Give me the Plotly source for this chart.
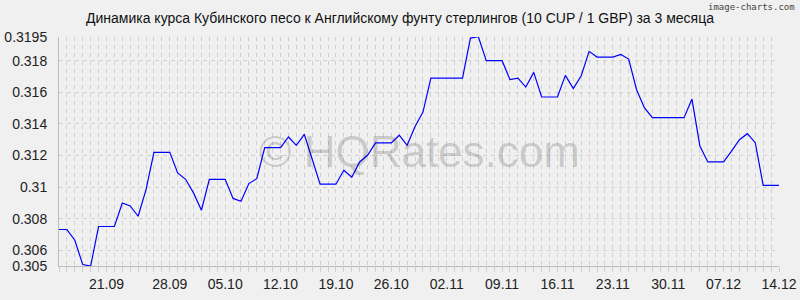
import plotly.graph_objects as go

# Daily rates (CUP per 10 / GBP), 92 points, 15.09 .. 14.12
rates = [
    0.30731, 0.30731, 0.30663, 0.30509, 0.30500, 0.30750, 0.30750, 0.30750,
    0.30899, 0.30880, 0.30815, 0.30984, 0.31220, 0.31220, 0.31220, 0.31089,
    0.31049, 0.30963, 0.30853, 0.31049, 0.31049, 0.31049, 0.30928, 0.30910,
    0.31022, 0.31053, 0.31250, 0.31250, 0.31250, 0.31317, 0.31264, 0.31334,
    0.31176, 0.31018, 0.31018, 0.31018, 0.31106, 0.31062, 0.31159, 0.31201,
    0.31279, 0.31279, 0.31279, 0.31328, 0.31264, 0.31383, 0.31475, 0.31690,
    0.31690, 0.31690, 0.31690, 0.31690, 0.31943, 0.31952, 0.31800, 0.31800,
    0.31800, 0.31680, 0.31690, 0.31633, 0.31726, 0.31570, 0.31570, 0.31570,
    0.31707, 0.31623, 0.31705, 0.31859, 0.31823, 0.31823, 0.31823, 0.31840,
    0.31810, 0.31616, 0.31501, 0.31439, 0.31439, 0.31439, 0.31439, 0.31439,
    0.31557, 0.31260, 0.31159, 0.31159, 0.31159, 0.31228, 0.31300, 0.31338,
    0.31281, 0.31011, 0.31011, 0.31011,
]
day_index = list(range(len(rates)))

x_tick_pos = [6, 14, 21, 28, 35, 42, 49, 56, 63, 70, 77, 84, 91]
x_tick_labels = ["21.09", "28.09", "05.10", "12.10", "19.10", "26.10", "02.11",
                 "09.11", "16.11", "23.11", "30.11", "07.12", "14.12"]

y_tick_vals = [0.305, 0.306, 0.308, 0.310, 0.312, 0.314, 0.316, 0.318, 0.3195]
y_tick_labels = ["0.305", "0.306", "0.308", "0.31", "0.312", "0.314", "0.316", "0.318", "0.3195"]

title_text = "Динамика курса Кубинского песо к Английскому фунту стерлингов (10 CUP / 1 GBP) за 3 месяца"

GRID = "#cfcfcf"
BG = "#f0f0f0"
FONT = "Liberation Sans, Arial, sans-serif"

fig = go.Figure()
fig.add_trace(go.Scatter(
    x=day_index, y=rates, mode="lines",
    line=dict(color="#0000ff", width=1.2),
    hoverinfo="skip", showlegend=False,
))

fig.update_layout(
    width=800, height=300,
    paper_bgcolor=BG, plot_bgcolor=BG,
    margin=dict(l=59, r=21, t=37, b=34, autoexpand=False),
    font=dict(family=FONT, size=14, color="#222222"),
    title=dict(text=title_text, x=0.5, xanchor="center", y=0.94, yanchor="middle",
               font=dict(family=FONT, size=14, color="#111111")),
    xaxis=dict(
        range=[0, len(rates) - 1], automargin=False,
        tickmode="array", tickvals=x_tick_pos, ticktext=x_tick_labels,
        showgrid=True, gridcolor=GRID, griddash="4px,4px", gridwidth=1,
        ticks="outside", ticklen=5, tickcolor=GRID, ticklabelstandoff=0,
        minor=dict(dtick=1, tick0=0, showgrid=True, gridcolor=GRID, griddash="4px,4px",
                   ticks="outside", ticklen=5, tickcolor=GRID),
        showline=True, linecolor="#bdbdbd", linewidth=1,
        zeroline=False, fixedrange=True,
        tickfont=dict(family=FONT, size=14, color="#222222"),
    ),
    yaxis=dict(
        range=[0.305, 0.3195], automargin=False,
        tickmode="array", tickvals=y_tick_vals, ticktext=y_tick_labels,
        showgrid=True, gridcolor=GRID, griddash="4px,4px", gridwidth=1,
        ticks="", ticklabelstandoff=8,
        showline=True, linecolor="#bdbdbd", linewidth=1,
        zeroline=False, fixedrange=True,
        tickfont=dict(family=FONT, size=14, color="#222222"),
    ),
    annotations=[
        dict(text="© HQRates.com", x=0.5, y=0.5, xref="paper", yref="paper",
             showarrow=False, font=dict(family=FONT, size=44, color="rgba(0,0,0,0.16)")),
        dict(text="image-charts.com", x=(797 - 59) / 720, y=(300 - 34 - 7) / 229,
             xref="paper", yref="paper",
             xanchor="right", yanchor="middle", showarrow=False,
             font=dict(family="DejaVu Sans Mono", size=9, color="#444444")),
    ],
)

fig.write_html("out.html")
